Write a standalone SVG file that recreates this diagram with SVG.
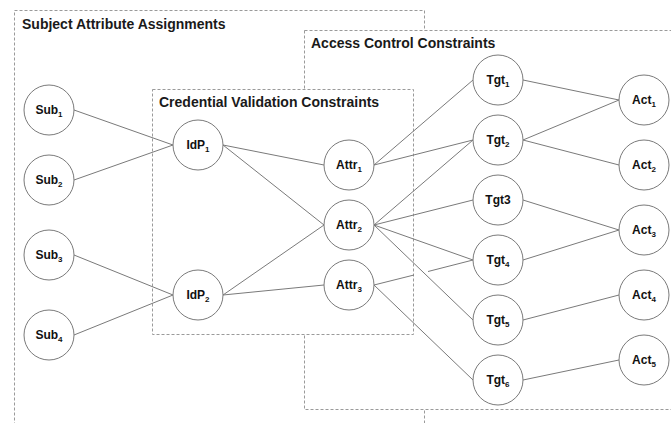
<svg xmlns="http://www.w3.org/2000/svg" width="671" height="423" viewBox="0 0 671 423">
  <style>
    .box { fill: #fff; stroke: #9a9a9a; stroke-width: 1; stroke-dasharray: 3 2; }
    .title { font-family: "Liberation Sans", Arial, sans-serif; font-weight: bold; font-size: 14px; fill: #1a1a1a; }
    .node circle { fill: #fff; stroke: #7a7a7a; stroke-width: 1; }
    .node text { font-family: "Liberation Sans", Arial, sans-serif; font-weight: bold; font-size: 12px; fill: #111; text-anchor: middle; }
    .node tspan.sub { font-size: 8px; }
    #connectors line { stroke: #7a7a7a; stroke-width: 1; }
  </style>
  <rect width="671" height="423" fill="#fff"/>

  <!-- constraint regions -->
  <g id="regions">
    <rect class="box" x="14.5" y="10.5" width="410" height="430"/>
    <text class="title" x="22" y="29">Subject Attribute Assignments</text>
    <rect class="box" x="304.5" y="30.5" width="390" height="379"/>
    <text class="title" x="311" y="48">Access Control Constraints</text>
    <rect class="box" x="152.5" y="89.5" width="261" height="245"/>
    <text class="title" x="159" y="107">Credential Validation Constraints</text>
  </g>

  <!-- edges, right-middle of source to left-middle of target -->
  <g id="connectors">
    <line x1="74" y1="110" x2="173" y2="145"/>
    <line x1="74" y1="180" x2="173" y2="145"/>
    <line x1="74" y1="255" x2="173" y2="295"/>
    <line x1="74" y1="335" x2="173" y2="295"/>
    <line x1="223" y1="145" x2="324" y2="165"/>
    <line x1="223" y1="145" x2="324" y2="225"/>
    <line x1="223" y1="295" x2="324" y2="225"/>
    <line x1="223" y1="295" x2="324" y2="285"/>
    <line x1="374" y1="165" x2="473" y2="80"/>
    <line x1="374" y1="165" x2="473" y2="140"/>
    <line x1="374" y1="225" x2="473" y2="140"/>
    <line x1="374" y1="225" x2="473" y2="200"/>
    <line x1="374" y1="225" x2="473" y2="260"/>
    <line x1="374" y1="225" x2="473" y2="320"/>
    <line x1="374" y1="285" x2="414" y2="275"/>
    <line x1="428" y1="271.5" x2="473" y2="260"/>
    <line x1="374" y1="285" x2="473" y2="380"/>
    <line x1="523" y1="80" x2="619" y2="100"/>
    <line x1="523" y1="140" x2="619" y2="100"/>
    <line x1="523" y1="140" x2="619" y2="165"/>
    <line x1="523" y1="200" x2="619" y2="230"/>
    <line x1="523" y1="260" x2="619" y2="230"/>
    <line x1="523" y1="320" x2="619" y2="295"/>
    <line x1="523" y1="380" x2="619" y2="360"/>
  </g>

  <!-- subjects -->
  <g id="sub1" class="node"><circle cx="49" cy="110" r="25"/><text x="49" y="114">Sub<tspan class="sub" dy="3">1</tspan></text></g>
  <g id="sub2" class="node"><circle cx="49" cy="180" r="25"/><text x="49" y="184">Sub<tspan class="sub" dy="3">2</tspan></text></g>
  <g id="sub3" class="node"><circle cx="49" cy="255" r="25"/><text x="49" y="259">Sub<tspan class="sub" dy="3">3</tspan></text></g>
  <g id="sub4" class="node"><circle cx="49" cy="335" r="25"/><text x="49" y="339">Sub<tspan class="sub" dy="3">4</tspan></text></g>

  <!-- identity providers -->
  <g id="idp1" class="node"><circle cx="198" cy="145" r="25"/><text x="198" y="149">IdP<tspan class="sub" dy="3">1</tspan></text></g>
  <g id="idp2" class="node"><circle cx="198" cy="295" r="25"/><text x="198" y="299">IdP<tspan class="sub" dy="3">2</tspan></text></g>

  <!-- attributes -->
  <g id="attr1" class="node"><circle cx="349" cy="165" r="25"/><text x="349" y="169">Attr<tspan class="sub" dy="3">1</tspan></text></g>
  <g id="attr2" class="node"><circle cx="349" cy="225" r="25"/><text x="349" y="229">Attr<tspan class="sub" dy="3">2</tspan></text></g>
  <g id="attr3" class="node"><circle cx="349" cy="285" r="25"/><text x="349" y="289">Attr<tspan class="sub" dy="3">3</tspan></text></g>

  <!-- targets -->
  <g id="tgt1" class="node"><circle cx="498" cy="80" r="25"/><text x="498" y="84">Tgt<tspan class="sub" dy="3">1</tspan></text></g>
  <g id="tgt2" class="node"><circle cx="498" cy="140" r="25"/><text x="498" y="144">Tgt<tspan class="sub" dy="3">2</tspan></text></g>
  <g id="tgt3" class="node"><circle cx="498" cy="200" r="25"/><text x="498" y="204">Tgt3</text></g>
  <g id="tgt4" class="node"><circle cx="498" cy="260" r="25"/><text x="498" y="264">Tgt<tspan class="sub" dy="3">4</tspan></text></g>
  <g id="tgt5" class="node"><circle cx="498" cy="320" r="25"/><text x="498" y="324">Tgt<tspan class="sub" dy="3">5</tspan></text></g>
  <g id="tgt6" class="node"><circle cx="498" cy="380" r="25"/><text x="498" y="384">Tgt<tspan class="sub" dy="3">6</tspan></text></g>

  <!-- actions -->
  <g id="act1" class="node"><circle cx="644" cy="100" r="25"/><text x="644" y="104">Act<tspan class="sub" dy="3">1</tspan></text></g>
  <g id="act2" class="node"><circle cx="644" cy="165" r="25"/><text x="644" y="169">Act<tspan class="sub" dy="3">2</tspan></text></g>
  <g id="act3" class="node"><circle cx="644" cy="230" r="25"/><text x="644" y="234">Act<tspan class="sub" dy="3">3</tspan></text></g>
  <g id="act4" class="node"><circle cx="644" cy="295" r="25"/><text x="644" y="299">Act<tspan class="sub" dy="3">4</tspan></text></g>
  <g id="act5" class="node"><circle cx="644" cy="360" r="25"/><text x="644" y="364">Act<tspan class="sub" dy="3">5</tspan></text></g>
</svg>
